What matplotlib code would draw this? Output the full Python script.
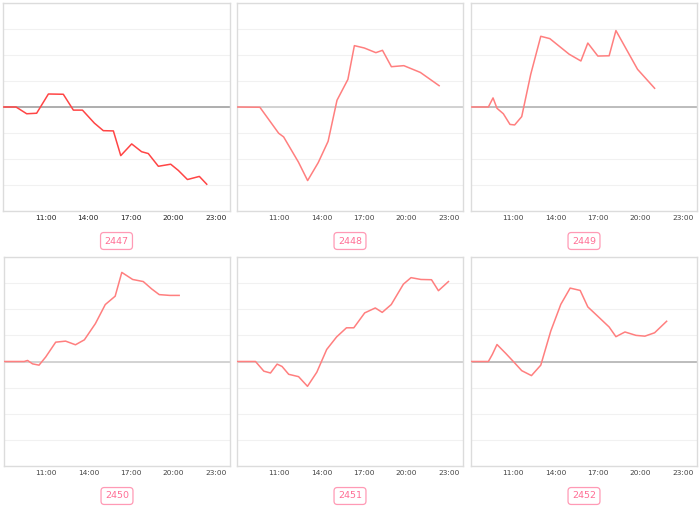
import matplotlib
matplotlib.use("Agg")
import matplotlib.pyplot as plt

# ---- data ----
labels = ["2447", "2448", "2449", "2450", "2451", "2452"]
tick_hours = [11, 14, 17, 20, 23]
tick_labels = ["11:00", "14:00", "17:00", "20:00", "23:00"]

t1 = [8.0, 8.92, 9.67, 10.37, 11.2, 12.25, 12.96, 13.6, 14.44, 15.07, 15.78, 16.3,
      17.07, 17.77, 18.24, 18.95, 19.82, 20.36, 21.0, 21.84, 22.36]
v1 = [0, 0, -0.26, -0.24, 0.5, 0.49, -0.12, -0.12, -0.62, -0.91, -0.92, -1.87,
      -1.42, -1.72, -1.79, -2.28, -2.2, -2.44, -2.79, -2.67, -2.97]

t2 = [8.0, 9.62, 10.95, 11.3, 12.35, 13.0, 13.75, 14.45, 15.08, 15.85, 16.31, 17.01,
      17.83, 18.3, 18.93, 19.81, 20.98, 22.31]
v2 = [0, -0.01, -1.01, -1.15, -2.12, -2.83, -2.14, -1.32, 0.26, 1.06, 2.36, 2.27,
      2.09, 2.18, 1.55, 1.59, 1.33, 0.82]

t3 = [8.0, 9.23, 9.56, 9.84, 10.29, 10.76, 11.09, 11.59, 12.23, 12.94, 13.58, 14.95,
      15.78, 16.27, 16.98, 17.78, 18.26, 19.79, 21.0]
v3 = [0, 0, 0.35, -0.05, -0.26, -0.67, -0.69, -0.37, 1.26, 2.72, 2.63, 2.03,
      1.77, 2.46, 1.96, 1.97, 2.94, 1.45, 0.72]

t4 = [8.0, 9.43, 9.67, 10.02, 10.48, 10.95, 11.66, 12.36, 13.06, 13.69, 14.47, 15.17,
      15.87, 16.34, 17.11, 17.86, 18.45, 18.99, 19.74, 20.4]
v4 = [0, 0, 0.04, -0.09, -0.14, 0.17, 0.74, 0.78, 0.64, 0.83, 1.45, 2.18,
      2.5, 3.41, 3.14, 3.06, 2.78, 2.56, 2.53, 2.53]

t5 = [8.0, 9.31, 9.9, 10.37, 10.84, 11.19, 11.66, 12.36, 12.99, 13.65, 14.35, 15.05,
      15.75, 16.27, 17.04, 17.79, 18.28, 18.92, 19.78, 20.32, 21.02, 21.77, 22.26, 22.97]
v5 = [0, 0, -0.37, -0.44, -0.1, -0.19, -0.49, -0.58, -0.95, -0.41, 0.46, 0.94,
      1.29, 1.29, 1.86, 2.05, 1.88, 2.18, 2.96, 3.21, 3.14, 3.13, 2.71, 3.06]

t6 = [8.0, 9.23, 9.51, 9.84, 10.46, 11.05, 11.59, 12.28, 12.94, 13.65, 14.36, 15.02,
      15.73, 16.27, 16.96, 17.78, 18.26, 18.9, 19.68, 20.31, 21.0, 21.85]
v6 = [0, 0, 0.27, 0.65, 0.31, -0.03, -0.35, -0.54, -0.14, 1.17, 2.19, 2.81,
      2.72, 2.09, 1.74, 1.32, 0.95, 1.13, 1.0, 0.97, 1.1, 1.54]

times = [t1, t2, t3, t4, t5, t6]
values = [v1, v2, v3, v4, v5, v6]

# ---- layout (pixels) ----
W, H = 700, 508
fig = plt.figure(figsize=(W / 100, H / 100), dpi=100)

boxes = [  # x0, x1, ytop, ybottom
    (3, 230, 3, 211), (237, 463, 3, 211), (471, 697, 3, 211),
    (4, 230, 257, 466), (237, 463, 257, 466), (471, 697, 257, 466),
]
line_colors = ["#ff4545", "#ff7f7f", "#ff7f7f", "#ff7f7f", "#ff7f7f", "#ff7f7f"]
zero_colors = ["#a8a8a8", "#cfcfcf", "#b8b8b8", "#d0d0d0", "#d0d0d0", "#b8b8b8"]

for i, (x0, x1, yt, yb) in enumerate(boxes):
    ax = fig.add_axes([x0 / W, 1 - yb / H, (x1 - x0) / W, (yb - yt) / H])
    ax.set_xlim(8, 24)
    ax.set_ylim(-4, 4)
    ax.set_yticks(range(-4, 5))
    ax.set_yticklabels([])
    ax.yaxis.grid(True, color="#f1f1f1", lw=0.8)
    ax.set_axisbelow(True)
    ax.tick_params(axis="y", length=0)
    ax.set_xticks(tick_hours)
    ax.set_xticklabels(tick_labels, fontsize=5.3,
                       color="#222222" if i == 0 else "#444444")
    ax.tick_params(axis="x", length=0, pad=3)
    for s in ax.spines.values():
        s.set_color("#dcdcdc")
        s.set_linewidth(1.0)
    ax.axhline(0, color=zero_colors[i], lw=1.3, zorder=2)
    ax.plot(times[i], values[i], color=line_colors[i], lw=1.1, zorder=3)
    cx = (x0 + x1) / 2
    cy = yb + 30
    fig.text(cx / W, 1 - cy / H, labels[i], ha="center", va="center",
             fontsize=6.8, color="#ff6e95",
             bbox=dict(boxstyle="round,pad=0.42,rounding_size=0.35",
                       fc="white", ec="#ff9ab5", lw=0.9))

fig.savefig("out.png", dpi=100)
